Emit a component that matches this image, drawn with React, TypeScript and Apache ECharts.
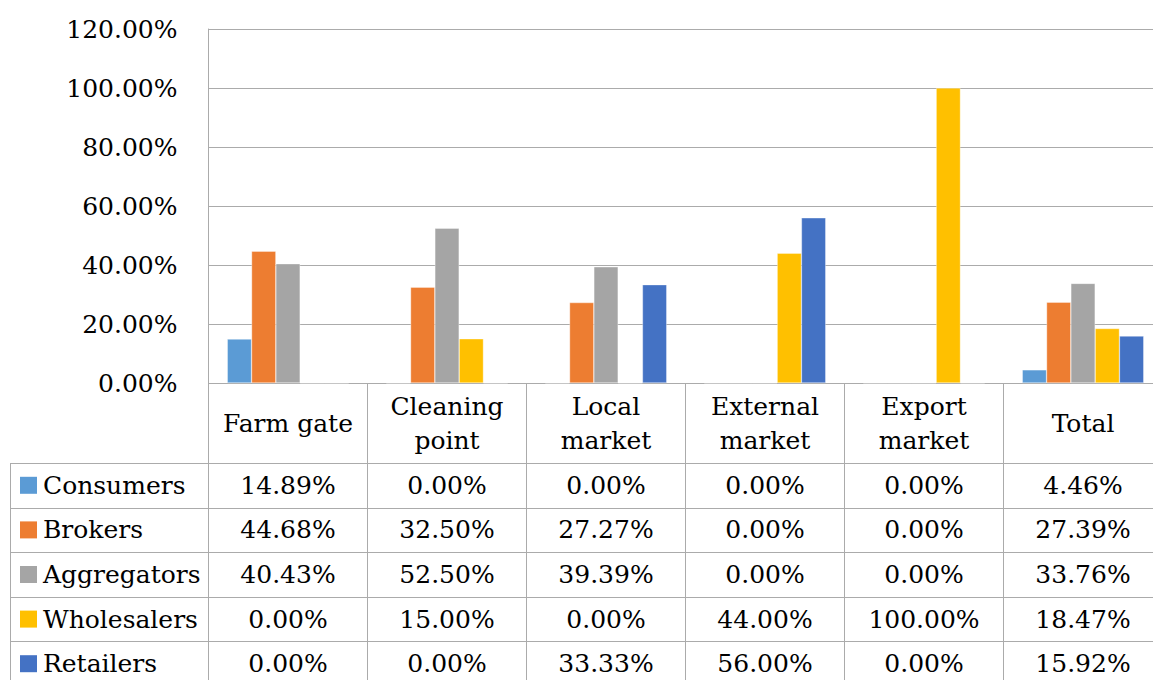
import React, { useEffect, useRef } from "react";
import * as echarts from "echarts";

const categories = ["Farm gate", "Cleaning\npoint", "Local\nmarket", "External\nmarket", "Export\nmarket", "Total"];
const seriesNames = ["Consumers", "Brokers", "Aggregators", "Wholesalers", "Retailers"];
const consumers = [14.89, 0.0, 0.0, 0.0, 0.0, 4.46];
const brokers = [44.68, 32.5, 27.27, 0.0, 0.0, 27.39];
const aggregators = [40.43, 52.5, 39.39, 0.0, 0.0, 33.76];
const wholesalers = [0.0, 15.0, 0.0, 44.0, 100.0, 18.47];
const retailers = [0.0, 0.0, 33.33, 56.0, 0.0, 15.92];
const colors = ["#5B9BD5", "#ED7D31", "#A5A5A5", "#FFC000", "#4472C4"];
const yTicks = { min: 0, max: 120, interval: 20 };

const FONT = "DejaVu Serif";
const FS = 25;
const LINE = "#ABABAB";
const CW = 1164;
const CH = 680;

export default function App() {
  const ref = useRef<HTMLDivElement>(null);
  useEffect(() => {
    document.body.style.margin = "0";
    document.documentElement.style.overflow = "hidden";
    document.body.style.overflow = "hidden";
    const chart = echarts.init(ref.current!, null, { renderer: "svg", width: CW, height: CH });
    const allData = [consumers, brokers, aggregators, wholesalers, retailers];
    const gridLeft = 208.5;
    const gridTop = 29;
    const gridHeight = 354;
    const gridWidth = 954;
    const tableBottom = CH;
    chart.setOption({
      animation: false,
      grid: { left: gridLeft, top: gridTop, width: gridWidth, height: gridHeight, containLabel: false },
      xAxis: {
        type: "category",
        data: categories,
        axisLine: { show: true, lineStyle: { color: LINE, width: 1 } },
        axisTick: { show: true, length: tableBottom - (gridTop + gridHeight), lineStyle: { color: LINE, width: 1 } },
        axisLabel: {
          color: "#000",
          fontSize: FS,
          fontFamily: FONT,
          lineHeight: 34,
          margin: 40,
          verticalAlign: "middle",
          align: "center",
          interval: 0,
        },
      },
      yAxis: {
        type: "value",
        min: yTicks.min,
        max: yTicks.max,
        interval: yTicks.interval,
        axisLine: { show: true, lineStyle: { color: LINE, width: 1 } },
        axisTick: { show: false },
        splitLine: { lineStyle: { color: LINE, width: 1 } },
        axisLabel: {
          color: "#000",
          fontSize: FS,
          fontFamily: FONT,
          margin: 31,
          formatter: (v: number) => v.toFixed(2) + "%",
        },
      },
      series: seriesNames.map((name, i) => ({
        name,
        type: "bar",
        data: allData[i],
        barGap: "0%",
        barCategoryGap: "23.6%",
        itemStyle: { color: colors[i], borderColor: "rgba(255,255,255,0.7)", borderWidth: 0.5 },
      })),
    });

    // Data table below the axis
    const headerBottom = 463;
    const rowH = 44.6;
    const tableLeft = 10;
    const elements: any[] = [];
    const hLine = (y: number) => ({
      type: "line",
      silent: true,
      shape: { x1: tableLeft, y1: Math.round(y) + 0.5, x2: CW, y2: Math.round(y) + 0.5 },
      style: { stroke: LINE, lineWidth: 1 },
    });
    for (let r = 0; r < seriesNames.length; r++) {
      elements.push(hLine(headerBottom + r * rowH));
    }
    elements.push({
      type: "line",
      silent: true,
      shape: { x1: tableLeft + 0.5, y1: headerBottom, x2: tableLeft + 0.5, y2: tableBottom },
      style: { stroke: LINE, lineWidth: 1 },
    });
    const centers = categories.map((_, i) => chart.convertToPixel({ xAxisIndex: 0 }, i) as number);
    seriesNames.forEach((name, r) => {
      const cy = headerBottom + rowH * (r + 0.5);
      elements.push({
        type: "rect",
        silent: true,
        shape: { x: 20, y: cy - 8.5, width: 17, height: 17 },
        style: { fill: colors[r] },
      });
      elements.push({
        type: "text",
        silent: true,
        x: 43,
        y: cy,
        style: { text: name, fill: "#000", fontSize: FS, fontFamily: FONT, align: "left", verticalAlign: "middle" },
      });
      allData[r].forEach((v, c) => {
        elements.push({
          type: "text",
          silent: true,
          x: centers[c],
          y: cy,
          style: {
            text: v.toFixed(2) + "%",
            fill: "#000",
            fontSize: FS,
            fontFamily: FONT,
            align: "center",
            verticalAlign: "middle",
          },
        });
      });
    });
    chart.setOption({ graphic: { elements } });
    return () => chart.dispose();
  }, []);
  return <div ref={ref} style={{ width: CW, height: CH, position: "absolute", left: 0, top: 0 }} />;
}
